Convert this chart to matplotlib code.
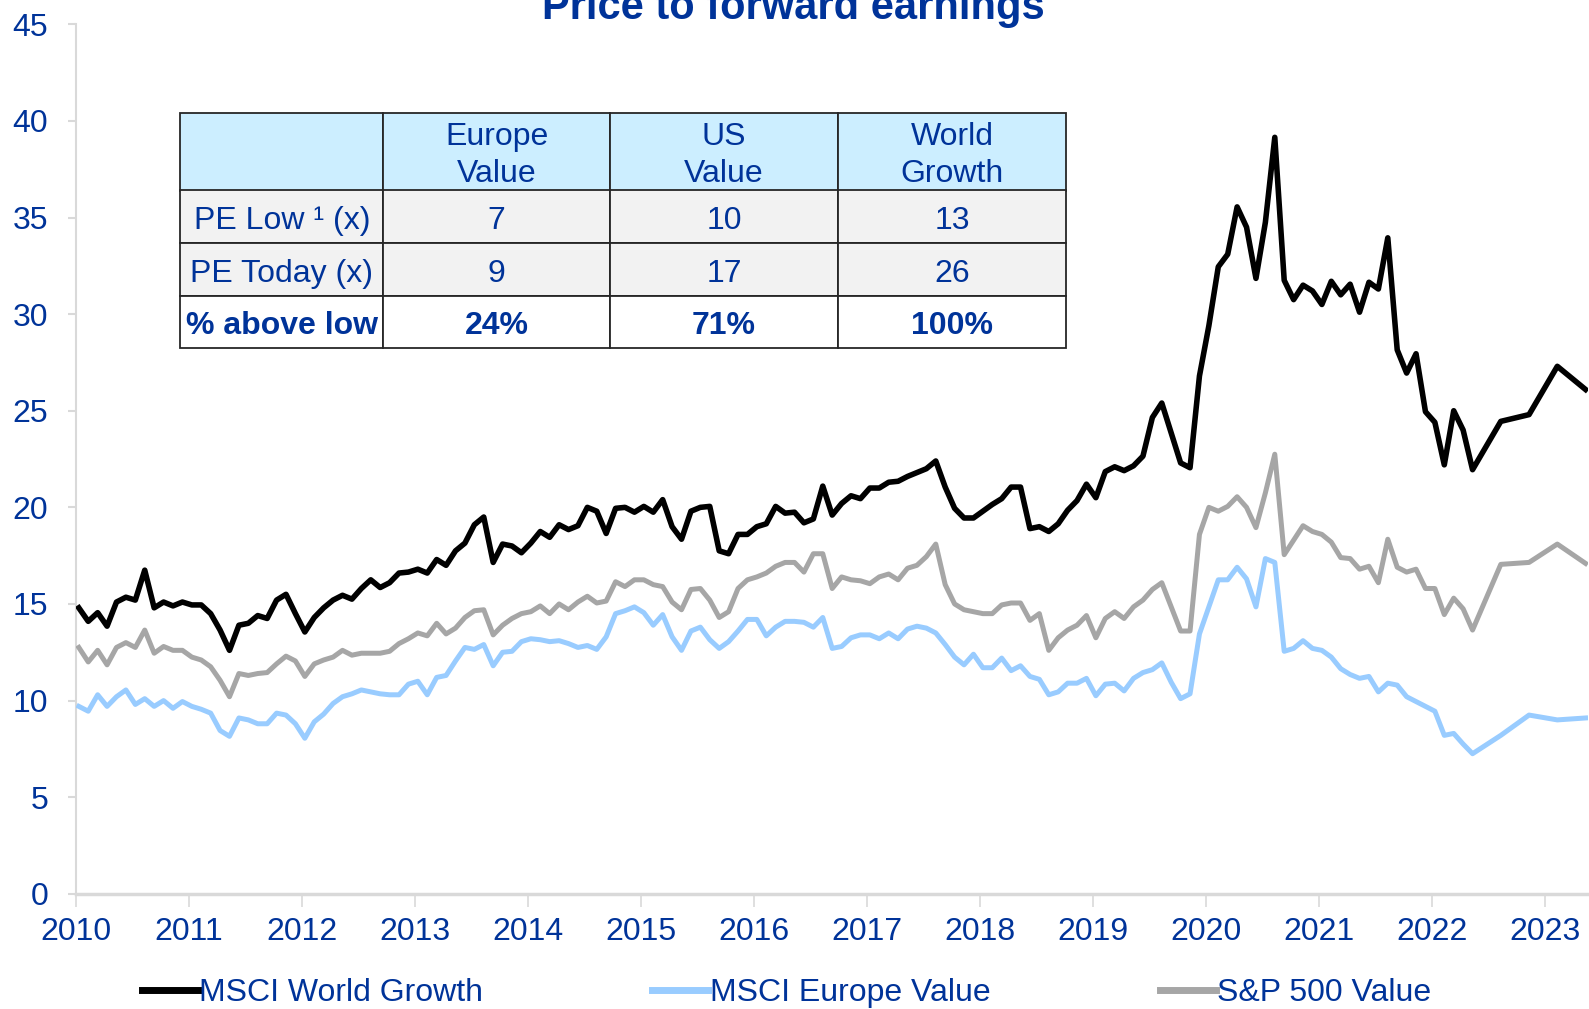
import numpy as np
import matplotlib
matplotlib.use('Agg')
import matplotlib.pyplot as plt
from matplotlib.patches import Rectangle
from matplotlib.lines import Line2D
from matplotlib import font_manager

# month index counted from Jan 2010 (monthly to May 2022, then quarterly)
months = list(range(149)) + [151, 154, 157, 160]

world_growth = [
    14.8, 14.1, 14.55, 13.85, 15.1, 15.35, 15.2, 16.75, 14.8, 15.1, 14.9, 15.1,
    14.95, 14.95, 14.5, 13.65, 12.6, 13.9, 14.0, 14.4, 14.25, 15.2, 15.5, 14.5,
    13.55, 14.3, 14.8, 15.2, 15.45, 15.25, 15.8, 16.25, 15.85, 16.1, 16.6, 16.65,
    16.8, 16.6, 17.3, 17.0, 17.75, 18.15, 19.1, 19.5, 17.15, 18.1, 18.0, 17.65,
    18.15, 18.75, 18.45, 19.1, 18.85, 19.05, 20.0, 19.8, 18.65, 19.95, 20.0, 19.75,
    20.05, 19.75, 20.4, 19.0, 18.35, 19.8, 20.0, 20.05, 17.75, 17.6, 18.6, 18.6,
    19.0, 19.15, 20.05, 19.7, 19.75, 19.2, 19.4, 21.1, 19.6, 20.2, 20.6, 20.45,
    21.0, 21.0, 21.3, 21.35, 21.6, 21.8, 22.0, 22.4, 21.05, 19.95, 19.45, 19.45,
    19.8, 20.15, 20.45, 21.05, 21.05, 18.9, 19.0, 18.75, 19.15, 19.85, 20.35, 21.2,
    20.5, 21.85, 22.1, 21.9, 22.15, 22.65, 24.65, 25.4, 23.85, 22.3, 22.05, 26.8,
    29.4, 32.45, 33.1, 35.55, 34.5, 31.85, 34.75, 39.15, 31.75, 30.75, 31.5, 31.2,
    30.5, 31.7, 31.0, 31.55, 30.1, 31.65, 31.3, 33.95, 28.15, 26.95, 27.95, 24.95,
    24.4, 22.2, 25.0, 24.0, 21.95,
    24.45, 24.8, 27.3, 26.1]

europe_value = [
    9.7, 9.45, 10.3, 9.7, 10.2, 10.55, 9.8, 10.1, 9.7, 10.0, 9.6, 9.95,
    9.7, 9.55, 9.35, 8.45, 8.15, 9.1, 9.0, 8.8, 8.8, 9.35, 9.25, 8.8,
    8.05, 8.9, 9.3, 9.85, 10.2, 10.35, 10.55, 10.45, 10.35, 10.3, 10.3, 10.85,
    11.0, 10.3, 11.2, 11.3, 12.05, 12.75, 12.65, 12.9, 11.8, 12.5, 12.55, 13.05,
    13.2, 13.15, 13.05, 13.1, 12.95, 12.75, 12.85, 12.65, 13.3, 14.5, 14.65, 14.85,
    14.55, 13.9, 14.45, 13.3, 12.6, 13.6, 13.8, 13.15, 12.7, 13.05, 13.6, 14.2,
    14.2, 13.35, 13.8, 14.1, 14.1, 14.05, 13.8, 14.3, 12.7, 12.8, 13.25, 13.4,
    13.4, 13.2, 13.5, 13.2, 13.7, 13.85, 13.75, 13.5, 12.9, 12.25, 11.85, 12.4,
    11.7, 11.7, 12.2, 11.55, 11.8, 11.25, 11.1, 10.3, 10.45, 10.9, 10.9, 11.15,
    10.25, 10.85, 10.9, 10.5, 11.15, 11.45, 11.6, 11.95, 10.95, 10.1, 10.35, 13.45,
    14.85, 16.25, 16.25, 16.9, 16.3, 14.85, 17.35, 17.15, 12.55, 12.7, 13.1, 12.7,
    12.6, 12.25, 11.65, 11.35, 11.15, 11.25, 10.45, 10.9, 10.8, 10.2, 9.95, 9.7,
    9.45, 8.2, 8.3, 7.75, 7.25,
    8.2, 9.25, 9.0, 9.1]

sp500_value = [
    12.75, 12.0, 12.6, 11.85, 12.75, 13.0, 12.75, 13.65, 12.45, 12.8, 12.6, 12.6,
    12.25, 12.1, 11.75, 11.05, 10.2, 11.4, 11.3, 11.4, 11.45, 11.9, 12.3, 12.05,
    11.25, 11.9, 12.1, 12.25, 12.6, 12.35, 12.45, 12.45, 12.45, 12.55, 12.95, 13.2,
    13.5, 13.35, 14.0, 13.45, 13.75, 14.3, 14.65, 14.7, 13.4, 13.9, 14.25, 14.5,
    14.6, 14.9, 14.5, 15.0, 14.7, 15.1, 15.4, 15.05, 15.15, 16.15, 15.9, 16.25,
    16.25, 16.0, 15.9, 15.1, 14.7, 15.75, 15.8, 15.2, 14.3, 14.6, 15.8, 16.25,
    16.4, 16.6, 16.95, 17.15, 17.15, 16.65, 17.6, 17.6, 15.8, 16.4, 16.25, 16.2,
    16.05, 16.4, 16.55, 16.25, 16.85, 17.0, 17.45, 18.1, 16.0, 15.0, 14.7, 14.6,
    14.5, 14.5, 14.95, 15.05, 15.05, 14.15, 14.5, 12.6, 13.25, 13.65, 13.9, 14.4,
    13.25, 14.25, 14.6, 14.25, 14.85, 15.2, 15.75, 16.1, 14.85, 13.6, 13.6, 18.6,
    20.0, 19.8, 20.05, 20.55, 20.0, 18.95, 20.75, 22.75, 17.55, 18.3, 19.05, 18.75,
    18.6, 18.2, 17.4, 17.35, 16.8, 16.95, 16.1, 18.35, 16.9, 16.65, 16.8, 15.8,
    15.8, 14.45, 15.3, 14.75, 13.65,
    17.05, 17.15, 18.1, 17.1]

years = list(range(2010, 2024))

table_cols = ['Europe\nValue', 'US\nValue', 'World\nGrowth']
table_rows = ['PE Low \u00b9 (x)', 'PE Today (x)', '% above low']
pe_low = ['7', '10', '13']
pe_today = ['9', '17', '26']
above_low = ['24%', '71%', '100%']

navy = '#003399'
axis_grey = '#d9d9d9'

names = {f.name for f in font_manager.fontManager.ttflist}
if 'Liberation Sans Narrow' in names:
    fam, fs, title_fs = 'Liberation Sans Narrow', 27, 36
else:
    fam, fs, title_fs = 'Liberation Sans', 23, 30
plt.rcParams['font.family'] = [fam, 'DejaVu Sans']

W, H = 1589, 1009
fig = plt.figure(figsize=(W / 100, H / 100), dpi=100)
ax = fig.add_axes([76 / W, 1 - 893.8 / H, 1512 / W, (893.8 - 24.3) / H])

x = 2010 + (np.array(months) + 0.3) / 12
ax.plot(x, world_growth, color='black', lw=4.0, label='MSCI World Growth', zorder=4)
ax.plot(x, europe_value, color='#99ccff', lw=3.6, label='MSCI Europe Value', zorder=3)
ax.plot(x, sp500_value, color='#a6a6a6', lw=3.6, label='S&P 500 Value', zorder=3)

ax.set_xlim(2010, 2023.38)
ax.set_ylim(0, 45)
ax.set_xticks(years)
ax.set_yticks(range(0, 46, 5))
for s in ['top', 'right']:
    ax.spines[s].set_visible(False)
ax.spines['left'].set_color(axis_grey)
ax.spines['left'].set_linewidth(1.5)
ax.spines['bottom'].set_color(axis_grey)
ax.spines['bottom'].set_linewidth(2.5)
ax.tick_params(axis='y', length=6, width=1.5, color=axis_grey, pad=14,
               labelsize=fs, labelcolor=navy)
ax.tick_params(axis='x', length=9, width=1.2, color=axis_grey, pad=8,
               labelsize=fs, labelcolor=navy)

fig.text(0.499, 1 - 19 / H, 'Price to forward earnings', ha='center', va='baseline',
         fontsize=title_fs, fontweight='bold', color=navy)

# table in pixel layout
col_edges = [180.4, 383.1, 610.1, 838.1, 1066.1]
row_edges = [112.5, 190.5, 243.2, 295.9, 347.6]
row_fill = ['#cceeff', '#f2f2f2', '#f2f2f2', '#ffffff']
cells = [[''] + table_cols,
         [table_rows[0]] + pe_low,
         [table_rows[1]] + pe_today,
         [table_rows[2]] + above_low]
for r in range(4):
    for c in range(4):
        x0, x1 = col_edges[c], col_edges[c + 1]
        y0, y1 = row_edges[r], row_edges[r + 1]
        fig.patches.append(Rectangle((x0 / W, 1 - y1 / H), (x1 - x0) / W, (y1 - y0) / H,
                                     transform=fig.transFigure, facecolor=row_fill[r],
                                     edgecolor='#262626', lw=1.3, zorder=5))
        txt = cells[r][c]
        if txt:
            fig.text((x0 + x1) / 2 / W, 1 - ((y0 + y1) / 2 + 4) / H, txt, ha='center',
                     va='center', fontsize=fs, color=navy, linespacing=1.3,
                     fontweight='bold' if r == 3 else 'normal', zorder=6)

handles = [Line2D([], [], color=c, lw=5) for c in ['black', '#99ccff', '#a6a6a6']]
labels = ['MSCI World Growth', 'MSCI Europe Value', 'S&P 500 Value']
fig.legend(handles, labels, loc='center', bbox_to_anchor=(0.495, 1 - 993 / H), ncol=3,
           frameon=False, handlelength=1.75, handletextpad=0.05, columnspacing=5.3,
           fontsize=fs, labelcolor=navy, borderaxespad=0, borderpad=0)

fig.savefig('out.png', dpi=100)
